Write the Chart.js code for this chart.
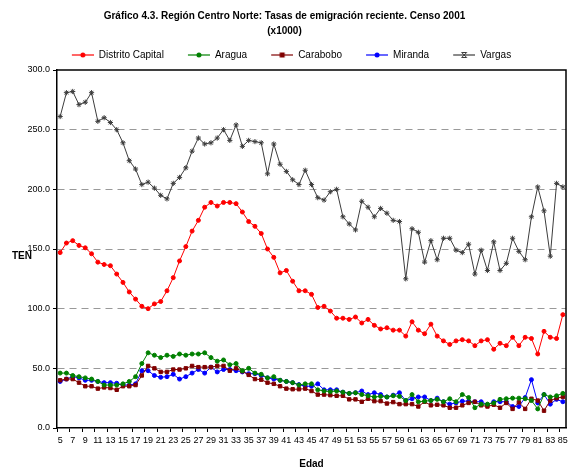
<!DOCTYPE html>
<html>
<head>
<meta charset="utf-8">
<script src="https://cdn.jsdelivr.net/npm/chart.js@4"></script>
<style>
  html, body { margin: 0; padding: 0; background: #fff; }
  #wrap { position: relative; width: 571px; height: 471px; }
</style>
</head>
<body>
<div id="wrap"><canvas id="chart" width="571" height="471"></canvas></div>
<script>
// chart values
const ages = [5, 6, 7, 8, 9, 10, 11, 12, 13, 14, 15, 16, 17, 18, 19, 20, 21, 22, 23, 24,
  25, 26, 27, 28, 29, 30, 31, 32, 33, 34, 35, 36, 37, 38, 39, 40, 41, 42, 43, 44,
  45, 46, 47, 48, 49, 50, 51, 52, 53, 54, 55, 56, 57, 58, 59, 60, 61, 62, 63, 64,
  65, 66, 67, 68, 69, 70, 71, 72, 73, 74, 75, 76, 77, 78, 79, 80, 81, 82, 83, 84, 85];

const distritoCapital = [147, 155, 157, 153, 151, 146, 139, 137, 136, 129,
  122, 114, 108, 102, 100, 104, 106, 115, 126, 140,
  152, 165, 174, 185, 189, 186, 189, 189, 188, 181,
  173, 169, 163, 150, 143, 130, 132, 123, 115, 115,
  112, 101, 102, 98, 92, 92, 91, 93, 88, 91,
  86, 83, 84, 82, 82, 77, 89, 82, 79, 87,
  77, 73, 70, 73, 74, 73, 69, 73, 74, 66,
  71, 69, 76, 69, 76, 75, 62, 81, 76, 75, 95];

const aragua = [46, 46, 44, 43, 42, 41, 39, 36, 36, 36,
  37, 39, 43, 54, 63, 61, 59, 61, 60, 62,
  61, 62, 62, 63, 59, 56, 57, 53, 54, 48,
  50, 46, 45, 42, 43, 40, 39, 38, 36, 37,
  37, 32, 31, 30.5, 31, 30, 29, 29.5, 28, 27,
  26, 26.5, 26, 27, 26.5, 23, 28, 22, 22.5, 23,
  24, 22, 24.5, 22, 28, 25.5, 17, 20, 20, 21,
  24, 24.5, 25, 25, 24.5, 23, 16, 28, 26, 27, 29];

const carabobo = [40, 41, 41, 38, 35, 35, 33, 34, 33.5, 32,
  35, 35, 36, 44, 52, 50, 47, 47, 49, 49,
  50, 52, 51, 51, 51, 52, 52, 48, 50, 47.5,
  44.5, 41, 40.5, 38, 37, 35, 33, 32.5, 32.5, 33,
  31, 28, 28, 27.5, 27, 27, 24, 24, 22, 24.5,
  22.5, 22.5, 20.5, 21.7, 20, 20, 20, 18, 22, 19,
  19.5, 19, 17, 17, 19, 21, 22, 19, 18, 19.5,
  17, 21, 16, 21.5, 16, 24.5, 23, 14.5, 23, 25, 26];

const miranda = [39, 41, 43, 42, 40, 40, 39, 38, 38, 37.5,
  36, 36, 37, 48, 48, 44, 42.5, 43, 45, 41,
  43, 46, 49, 46, 51, 47, 49, 49, 48, 47,
  45.5, 45.5, 44, 42, 41, 40, 39, 38, 36.4, 35,
  35, 37, 32, 32, 32, 30, 29, 29.5, 31, 28,
  29.5, 28, 26, 27.5, 29.5, 23, 24.5, 26, 26, 23,
  25, 22, 20, 21, 22.5, 22.5, 22, 22, 19.5, 22,
  22, 22, 18, 18, 25.5, 40.5, 21, 28, 20, 24, 22];

const vargas = [261, 281, 282, 271, 273, 281, 257, 260, 256, 250,
  239, 224, 217, 204, 206, 201, 195, 192, 205, 210,
  218, 232, 243, 238, 239, 243, 250, 241, 254, 236,
  241, 240, 239, 213, 238, 221, 215, 208, 204, 216,
  204, 193, 191, 198, 200, 177, 171, 166, 190, 185,
  177, 184, 180, 174, 173, 125, 167, 164, 139, 157,
  141, 159, 159, 149, 147, 154, 129, 149, 132, 156,
  132, 138, 159, 148, 141, 177, 202, 182, 144, 205, 202];

const yTicks = [0, 50, 100, 150, 200, 250, 300];

const FONT = "'Liberation Sans', Arial, sans-serif";

// legend symbol: transparent lead-in, then a short line with the marker in the middle
function legendSymbol(color, style) {
  const c = document.createElement("canvas");
  c.width = 36; c.height = 10;
  const g = c.getContext("2d");
  const x0 = 14;
  g.strokeStyle = color; g.fillStyle = color; g.lineWidth = 1.2;
  g.beginPath(); g.moveTo(x0, 5); g.lineTo(x0 + 22, 5); g.stroke();
  const cx = x0 + 11;
  if (style === "rect") {
    g.fillRect(cx - 2.5, 2.5, 5, 5);
  } else if (style === "star") {
    g.lineWidth = 1;
    g.beginPath();
    g.moveTo(cx - 2.5, 2.5); g.lineTo(cx + 2.5, 2.5);
    g.moveTo(cx - 2.5, 7.5); g.lineTo(cx + 2.5, 7.5);
    g.moveTo(cx - 2.5, 2.5); g.lineTo(cx + 2.5, 7.5);
    g.moveTo(cx + 2.5, 2.5); g.lineTo(cx - 2.5, 7.5);
    g.stroke();
  } else {
    g.beginPath(); g.arc(cx, 5, 2.5, 0, Math.PI * 2); g.fill();
  }
  return c;
}

function series(label, data, color, style, radius) {
  return {
    label: label,
    data: data,
    borderColor: color,
    backgroundColor: color,
    borderWidth: 1,
    pointStyle: style,
    pointRadius: radius,
    pointBorderWidth: 1,
    pointBackgroundColor: color,
    pointBorderColor: color,
    tension: 0,
    legendSymbol: legendSymbol(color, style)
  };
}

const ctx = document.getElementById("chart").getContext("2d");
new Chart(ctx, {
  type: "line",
  data: {
    labels: ages,
    datasets: [
      series("Distrito Capital", distritoCapital, "#ff0000", "circle", 2),
      series("Aragua", aragua, "#008000", "circle", 2),
      series("Carabobo", carabobo, "#800000", "rect", 2.4),
      series("Miranda", miranda, "#0000ff", "circle", 2),
      series("Vargas", vargas, "#3c3c3c", "star", 2.6)
    ]
  },
  options: {
    responsive: false,
    animation: false,
    layout: { padding: { left: 0, right: 2, top: 9, bottom: 0 } },
    plugins: {
      title: {
        display: true,
        text: ["Gráfico 4.3. Región Centro Norte: Tasas de emigración reciente. Censo 2001", "(x1000)"],
        color: "#000",
        font: { family: FONT, size: 10, weight: "bold", lineHeight: 1.5 },
        padding: { top: 0, bottom: 1 }
      },
      legend: {
        position: "top",
        labels: {
          color: "#000",
          font: { family: FONT, size: 10 },
          usePointStyle: true,
          pointStyleWidth: 36,
          boxHeight: 10,
          padding: 10,
          generateLabels: function (chart) {
            const items = Chart.defaults.plugins.legend.labels.generateLabels(chart);
            items.forEach(function (it) {
              it.pointStyle = chart.data.datasets[it.datasetIndex].legendSymbol;
            });
            return items;
          }
        }
      },
      tooltip: { enabled: false }
    },
    scales: {
      x: {
        type: "category",
        offset: true,
        afterFit: function (scale) { scale.height = 43; },
        border: { color: "#000", width: 1.5 },
        grid: {
          offset: true,
          drawOnChartArea: false,
          tickLength: 4,
          tickColor: function (c) { return c.index % 2 === 0 ? "#000" : "rgba(0,0,0,0)"; }
        },
        ticks: {
          autoSkip: false,
          maxRotation: 0,
          color: "#000",
          padding: 3,
          font: { family: FONT, size: 9 },
          callback: function (value, index) {
            return index % 2 === 0 ? this.getLabelForValue(value) : "";
          }
        },
        title: {
          display: true,
          text: "Edad",
          color: "#000",
          font: { family: FONT, size: 10, weight: "bold" },
          padding: { top: 4, bottom: 1 }
        }
      },
      y: {
        min: 0,
        max: 300,
        afterFit: function (scale) { scale.width = 57; },
        afterBuildTicks: function (scale) {
          scale.ticks = yTicks.map(function (v) { return { value: v }; });
        },
        border: { color: "#000", width: 1.5, dash: [7, 5] },
        grid: {
          color: function (c) { return (c.tick.value === 0 || c.tick.value === 300) ? "rgba(0,0,0,0)" : "#999"; },
          tickColor: "#000",
          tickLength: 4,
          lineWidth: 1
        },
        ticks: {
          color: "#000",
          padding: 3,
          font: { family: FONT, size: 9 },
          callback: function (v) { return Number(v).toFixed(1); }
        }
      }
    }
  },
  plugins: [{
    id: "frameAndLabel",
    beforeDatasetsDraw: function (chart) {
      // black frame along the top and right of the plot area
      const a = chart.chartArea, g = chart.ctx;
      g.save();
      g.strokeStyle = "#000";
      g.lineWidth = 1.5;
      g.beginPath();
      g.moveTo(a.left, a.top); g.lineTo(a.right, a.top); g.lineTo(a.right, a.bottom);
      g.stroke();
      g.restore();
    },
    afterDraw: function (chart) {
      const a = chart.chartArea, g = chart.ctx;
      g.save();
      g.fillStyle = "#000";
      g.font = "bold 10px " + FONT;
      g.textAlign = "center";
      g.textBaseline = "middle";
      g.fillText("TEN", 22, (a.top + a.bottom) / 2 + 7);
      g.restore();
    }
  }]
});
</script>
</body>
</html>
